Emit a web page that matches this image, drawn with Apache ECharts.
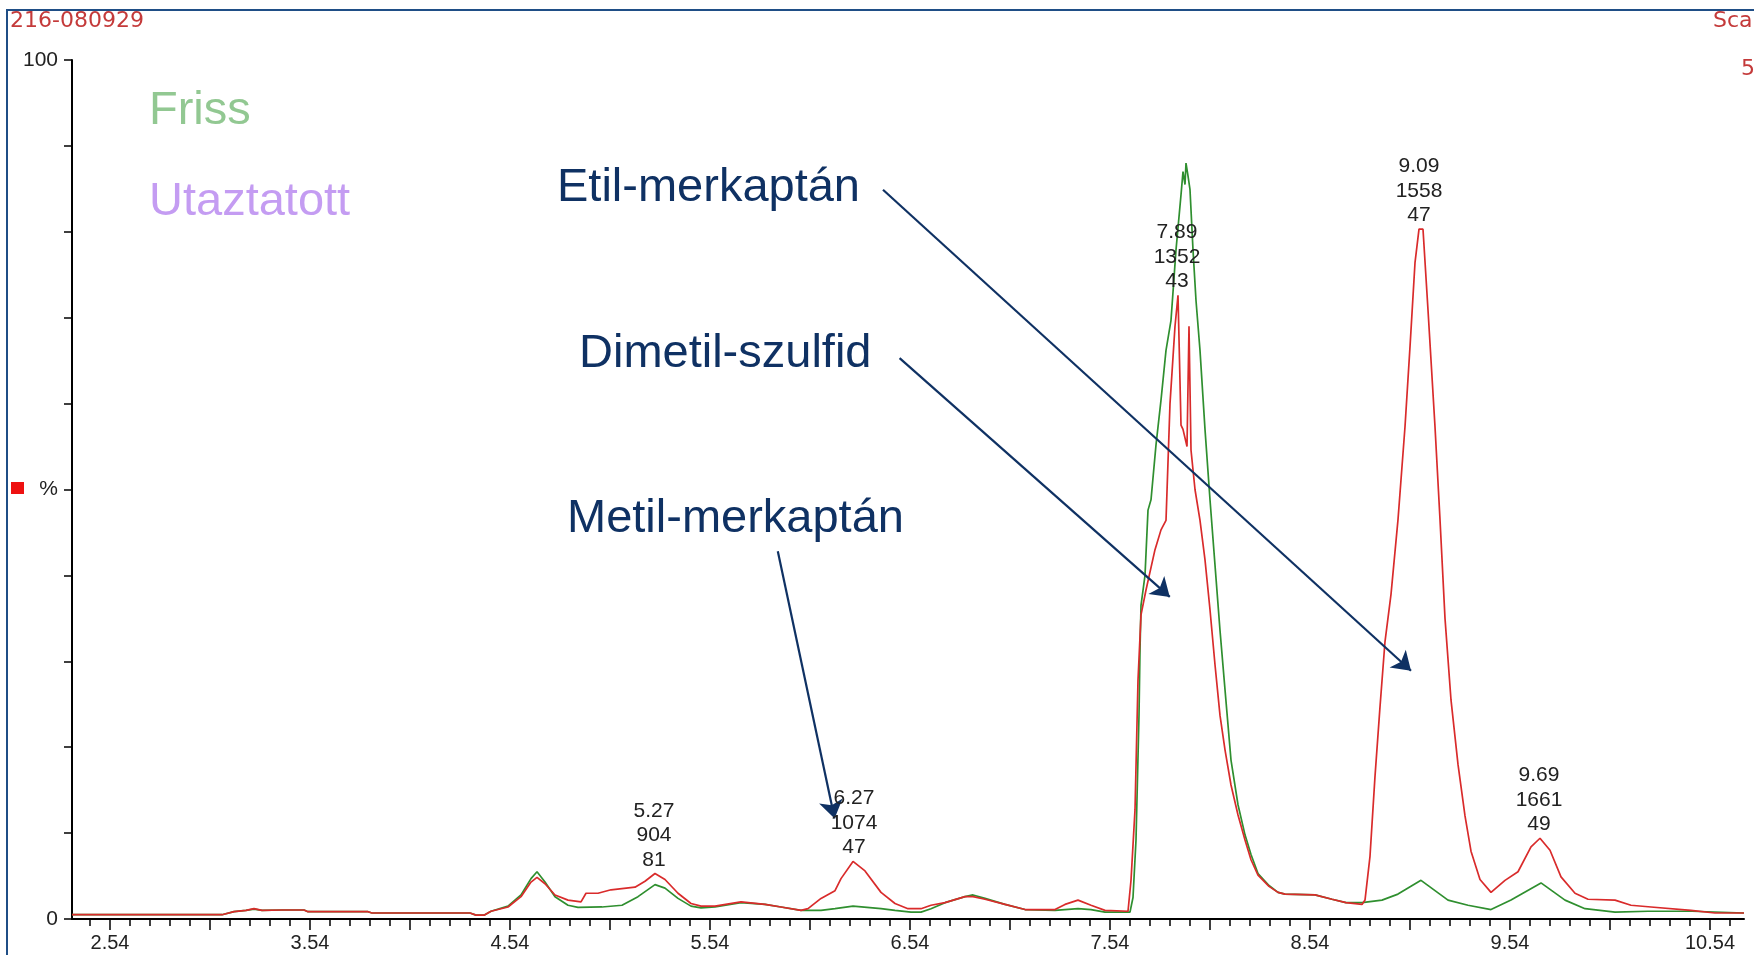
<!DOCTYPE html>
<html><head><meta charset="utf-8">
<script src="https://cdn.jsdelivr.net/npm/echarts@6/dist/echarts.min.js"></script>
<style>html,body{margin:0;padding:0;background:#fff}#c{width:1754px;height:955px}</style>
</head><body><div id="c"></div>
<script>
// Utaztatott (red trace): retention time (min) and relative intensity (%)
const redTime = [2.35,3.10,3.16,3.22,3.26,3.30,3.40,3.51,3.53,3.83,3.85,4.34,4.37,4.41,4.445,4.53,4.595,4.645,4.675,4.715,4.765,4.83,4.895,4.92,4.98,5.045,5.165,5.215,5.265,5.315,5.38,5.445,5.495,5.565,5.695,5.815,5.895,5.995,6.03,6.095,6.165,6.195,6.255,6.315,6.395,6.465,6.53,6.595,6.645,6.715,6.815,6.855,6.915,7.015,7.115,7.265,7.315,7.38,7.445,7.515,7.63,7.645,7.665,7.68,7.695,7.72,7.765,7.795,7.82,7.84,7.865,7.88,7.895,7.905,7.925,7.935,7.945,7.965,7.99,8.015,8.04,8.065,8.09,8.115,8.145,8.18,8.215,8.245,8.28,8.335,8.38,8.415,8.565,8.65,8.72,8.80,8.815,8.84,8.865,8.89,8.915,8.945,8.98,9.015,9.04,9.065,9.085,9.105,9.13,9.165,9.19,9.215,9.245,9.28,9.315,9.345,9.39,9.445,9.515,9.58,9.645,9.69,9.74,9.795,9.865,9.93,10.065,10.145,10.245,10.445,10.565,10.71];
const redValue = [0.5,0.5,0.85,1.0,1.2,1.0,1.05,1.05,0.85,0.85,0.7,0.7,0.45,0.45,0.9,1.4,2.6,4.3,4.85,4.1,2.8,2.2,2.0,3.0,3.0,3.4,3.7,4.4,5.3,4.6,3.0,1.8,1.5,1.5,2.0,1.7,1.4,1.0,1.2,2.4,3.3,4.7,6.7,5.6,3.1,1.8,1.2,1.2,1.6,1.9,2.6,2.6,2.3,1.7,1.1,1.1,1.7,2.2,1.6,1.0,0.9,4.5,12.7,27.8,35.4,38.3,43.0,45.3,46.4,60.0,69.0,72.6,57.5,57.0,55.0,69.0,54.6,50.0,46.4,41.8,36.0,29.6,23.7,19.7,15.6,12.1,9.2,6.9,5.1,3.8,3.1,2.9,2.8,2.3,1.9,1.7,2.2,7.3,16.6,24.7,32.3,37.8,46.5,57.3,66.6,76.4,80.3,80.3,70.9,57.3,46.5,35.0,25.5,18.0,12.0,7.9,4.6,3.1,4.5,5.5,8.4,9.4,8.0,4.9,3.0,2.3,2.2,1.6,1.4,1.0,0.7,0.7];

// Friss (green trace)
const greenTime = [2.35,3.10,3.16,3.22,3.26,3.30,3.40,3.51,3.53,3.83,3.85,4.34,4.37,4.41,4.445,4.53,4.595,4.645,4.675,4.715,4.765,4.83,4.88,5.0,5.1,5.18,5.265,5.315,5.38,5.445,5.495,5.565,5.695,5.815,5.895,5.995,6.095,6.165,6.255,6.395,6.465,6.545,6.595,6.645,6.715,6.815,6.855,6.915,7.015,7.115,7.265,7.38,7.445,7.515,7.64,7.655,7.67,7.685,7.69,7.695,7.715,7.73,7.745,7.77,7.795,7.82,7.845,7.87,7.895,7.905,7.915,7.92,7.93,7.94,7.955,7.97,7.99,8.015,8.04,8.065,8.09,8.115,8.145,8.18,8.215,8.245,8.28,8.335,8.38,8.415,8.565,8.65,8.72,8.80,8.90,8.98,9.095,9.23,9.33,9.445,9.545,9.695,9.815,9.915,10.065,10.23,10.45,10.71];
const greenValue = [0.5,0.5,0.85,1.0,1.15,1.0,1.05,1.05,0.85,0.85,0.7,0.7,0.45,0.45,0.9,1.5,2.8,4.7,5.5,4.3,2.6,1.6,1.35,1.4,1.6,2.6,4.0,3.6,2.4,1.5,1.3,1.4,1.9,1.7,1.4,1.0,1.0,1.2,1.5,1.2,1.0,0.8,0.8,1.2,1.9,2.6,2.8,2.4,1.7,1.1,1.0,1.2,1.1,0.8,0.8,2.5,9.2,23.7,31.3,36.5,40.0,47.6,48.8,55.2,60.4,66.2,69.7,77.9,84.3,87.0,85.5,88.0,86.5,84.9,77.9,72.0,66.2,57.0,48.8,41.2,33.6,26.7,18.5,13.3,9.8,7.5,5.3,3.9,3.1,2.9,2.8,2.3,1.9,1.9,2.2,2.9,4.5,2.2,1.6,1.1,2.2,4.2,2.2,1.2,0.8,0.9,0.9,0.7];

// Peak annotations (retention time / scan / base mass)
const peakPos    = [5.26, 6.26, 7.875, 9.085, 9.685];
const peakHeight = [5.3, 6.7, 72.6, 80.3, 9.4];
const peakRT     = ['5.27','6.27','7.89','9.09','9.69'];
const peakScan   = ['904','1074','1352','1558','1661'];
const peakMass   = ['81','47','43','47','49'];

// Compound arrows: [startTime, startValue, endTime, endValue]
const arrowEtil    = [6.405, 84.9, 9.045, 28.9];
const arrowDimetil = [6.488, 65.3, 7.839, 37.5];
const arrowMetil   = [5.879, 42.8, 6.163, 11.7];

// Axis ticks
const xLabelValues = [2.54,3.54,4.54,5.54,6.54,7.54,8.54,9.54,10.54];
const xLabelTexts  = ['2.54','3.54','4.54','5.54','6.54','7.54','8.54','9.54','10.54'];
const xMajorTicks  = [2.54,3.04,3.54,4.04,4.54,5.04,5.54,6.04,6.54,7.04,7.54,8.04,8.54,9.04,9.54,10.04,10.54];
const xMinorTicks = [];
for (let i = 0; i <= 82; i++) xMinorTicks.push(+(2.44 + i * 0.1).toFixed(2));

const xMin = 2.35, xMax = 10.71;
const FONT = '"Liberation Sans", Arial, sans-serif';
const NAVY = '#0f3163';

const chart = echarts.init(document.getElementById('c'), null, {renderer: 'canvas'});

const peakData = peakPos.map((p, i) => ({
  coord: [p, peakHeight[i]],
  label: {formatter: peakRT[i] + '\n' + peakScan[i] + '\n' + peakMass[i]}
}));

const arrowLine = a => [{coord: [a[0], a[1]]}, {coord: [a[2], a[3]]}];

const bigText = (txt, x, y, color) => ({
  type: 'text', x: x, y: y,
  style: {text: txt, fill: color, font: '47px ' + FONT, verticalAlign: 'middle', align: 'left'}
});
const smallRed = (txt, x, y) => ({
  type: 'text', x: x, y: y,
  style: {text: txt, fill: '#c43a3a', font: '22px "DejaVu Sans", sans-serif', verticalAlign: 'middle', align: 'left'}
});

chart.setOption({
  animation: false,
  grid: {left: 72, right: 10, top: 60, bottom: 36, containLabel: false},
  xAxis: [{
    type: 'value', min: xMin, max: xMax,
    axisLine: {show: true, onZero: false, lineStyle: {color: '#000', width: 2}},
    axisTick: {show: true, customValues: xMajorTicks, length: 11, lineStyle: {color: '#000', width: 1.5}},
    axisLabel: {show: true, customValues: xLabelValues, margin: 14, color: '#222',
      fontFamily: FONT, fontSize: 20,
      formatter: v => { const i = xLabelValues.findIndex(x => Math.abs(x - v) < 1e-6); return i >= 0 ? xLabelTexts[i] : ''; }},
    splitLine: {show: false}
  }, {
    type: 'value', min: xMin, max: xMax, position: 'bottom',
    axisLine: {show: false, onZero: false},
    axisTick: {show: true, customValues: xMinorTicks, length: 7, lineStyle: {color: '#000', width: 1.5}},
    axisLabel: {show: false},
    splitLine: {show: false}
  }],
  yAxis: {
    type: 'value', min: 0, max: 100, interval: 10,
    axisLine: {show: true, lineStyle: {color: '#000', width: 2}},
    axisTick: {show: true, length: 8, lineStyle: {color: '#000', width: 1.5}},
    axisLabel: {show: true, margin: 14, color: '#222', fontFamily: FONT, fontSize: 21,
      formatter: v => v === 100 ? '100' : (v === 0 ? '0' : (v === 50 ? '%' : ''))},
    splitLine: {show: false}
  },
  series: [{
    name: 'Friss', type: 'line', xAxisIndex: 0,
    data: greenTime.map((t, i) => [t, greenValue[i]]),
    showSymbol: false, symbol: 'none',
    lineStyle: {color: '#2f8f2f', width: 1.7},
    z: 2
  }, {
    name: 'Utaztatott', type: 'line', xAxisIndex: 0,
    data: redTime.map((t, i) => [t, redValue[i]]),
    showSymbol: false, symbol: 'none',
    lineStyle: {color: '#d92b2b', width: 1.7},
    z: 3,
    markPoint: {
      symbol: 'circle', symbolSize: 1, silent: true,
      itemStyle: {color: 'rgba(0,0,0,0)'},
      label: {show: true, position: 'top', distance: 1, color: '#222', fontFamily: FONT,
        fontSize: 21, lineHeight: 24.5, align: 'center'},
      data: peakData
    },
    markLine: {
      silent: true, symbol: ['none', 'arrow'], symbolSize: 18,
      lineStyle: {color: NAVY, width: 2.2, type: 'solid'},
      label: {show: false},
      emphasis: {disabled: true},
      data: [arrowLine(arrowEtil), arrowLine(arrowDimetil), arrowLine(arrowMetil)]
    }
  }],
  graphic: [
    {type: 'rect', shape: {x: 7, y: 10, width: 1800, height: 1000}, style: {fill: 'none', stroke: '#1f4e86', lineWidth: 2}, z: 100},
    smallRed('216-080929', 10, 21),
    smallRed('Sca', 1713, 21),
    smallRed('5', 1741, 69),
    {type: 'rect', shape: {x: 11, y: 482, width: 13, height: 12}, style: {fill: '#ee1111'}},
    bigText('Friss', 149, 111, '#92c892'),
    bigText('Utaztatott', 149, 202, '#c49cf2'),
    bigText('Etil-merkaptán', 557, 188, NAVY),
    bigText('Dimetil-szulfid', 579, 354, NAVY),
    bigText('Metil-merkaptán', 567, 519, NAVY)
  ]
});
</script></body></html>
